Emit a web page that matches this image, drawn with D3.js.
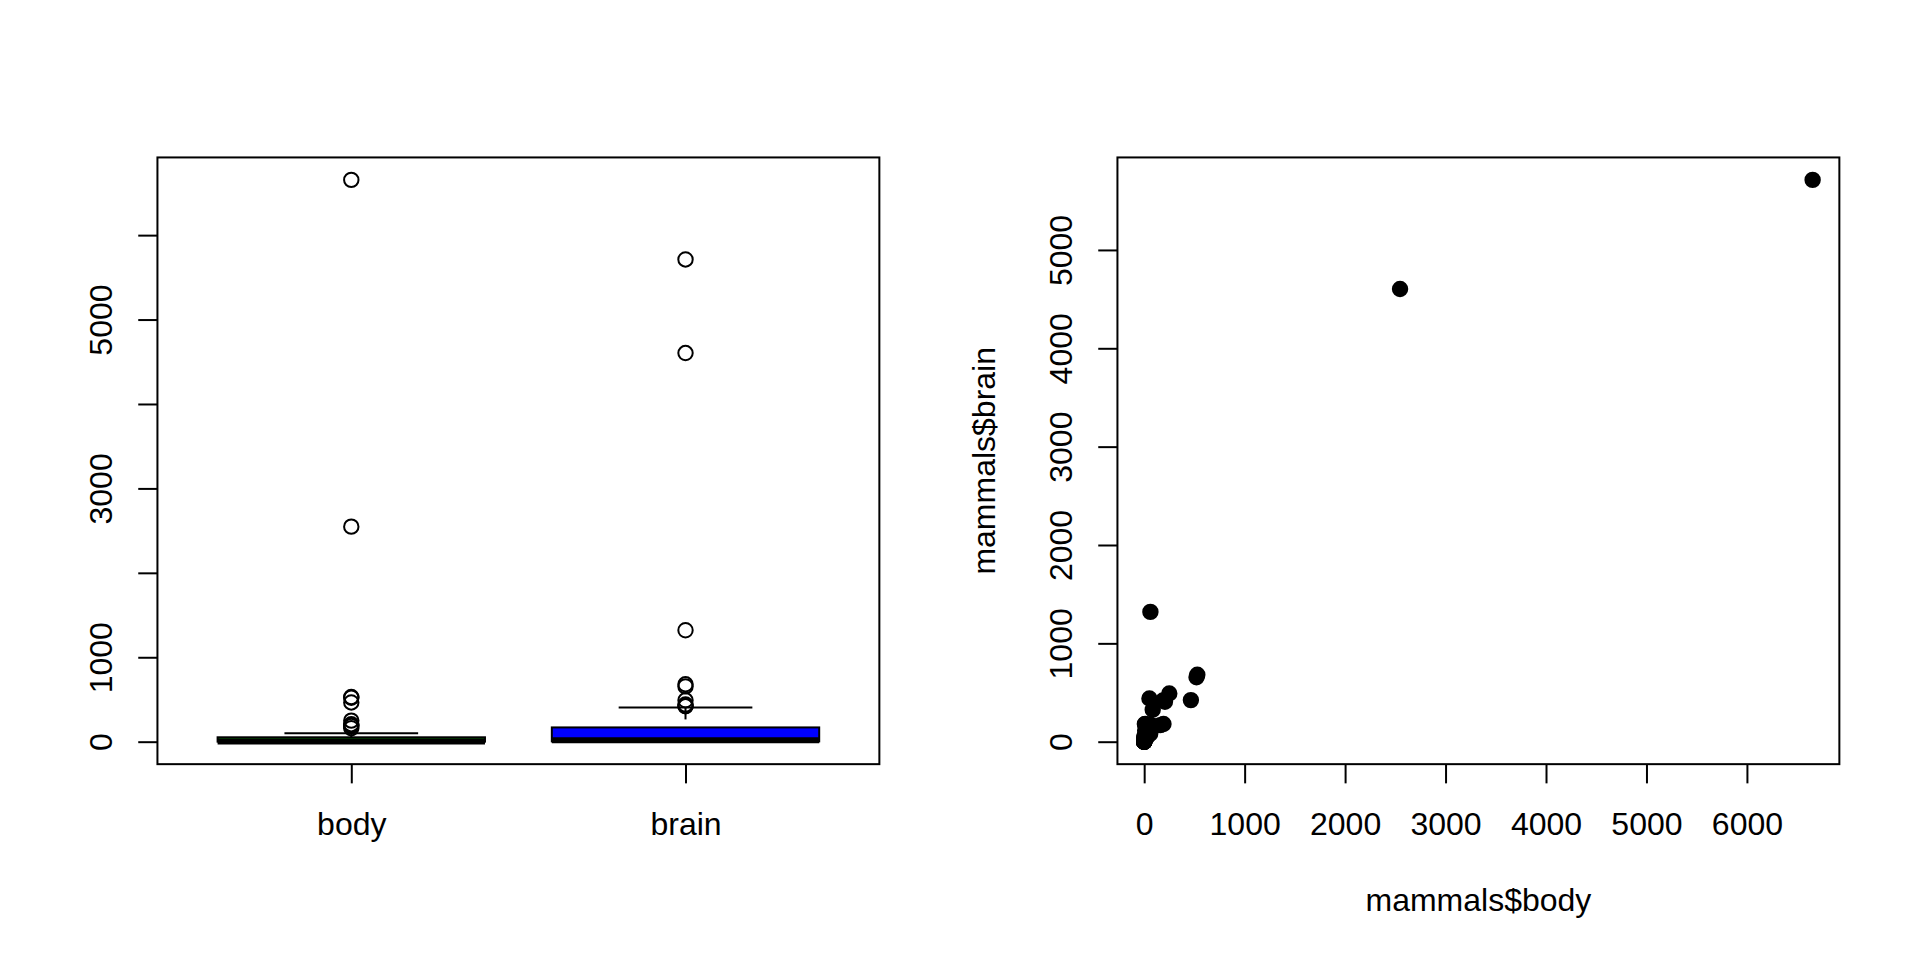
<!DOCTYPE html>
<html>
<head>
<meta charset="utf-8">
<script src="https://cdn.jsdelivr.net/npm/d3@7/dist/d3.min.js"></script>
<style>
  html, body { margin: 0; padding: 0; background: #fff; }
  svg { display: block; }
  text { font-family: "Liberation Sans", Arial, Helvetica, sans-serif; fill: #000; }
</style>
</head>
<body>
<svg id="chart" width="1920" height="960"></svg>
<script>
// ---- Data: MASS::mammals (body kg, brain g) ----
const mammalNames = ["Arctic fox","Owl monkey","Mountain beaver","Cow","Grey wolf","Goat","Roe deer","Guinea pig","Verbet","Chinchilla","Ground squirrel","Arctic ground squirrel","African giant pouched rat","Lesser short-tailed shrew","Star-nosed mole","Nine-banded armadillo","Tree hyrax","N.A. opossum","Asian elephant","Big brown bat","Donkey","Horse","European hedgehog","Patas monkey","Cat","Galago","Genet","Giraffe","Gorilla","Grey seal","Rock hyrax-a","Human","African elephant","Water opossum","Rhesus monkey","Kangaroo","Yellow-bellied marmot","Golden hamster","Mouse","Little brown bat","Slow loris","Okapi","Rabbit","Sheep","Jaguar","Chimpanzee","Baboon","Desert hedgehog","Giant armadillo","Rock hyrax-b","Raccoon","Rat","E. American mole","Mole rat","Musk shrew","Pig","Echidna","Brazilian tapir","Tenrec","Phalanger","Tree shrew","Red fox"];
const bodyValues = [3.385,0.480,1.350,465.000,36.330,27.660,14.830,1.040,4.190,0.425,0.101,0.920,1.000,0.005,0.060,3.500,2.000,1.700,2547.000,0.023,187.100,521.000,0.785,10.000,3.300,0.200,1.410,529.000,207.000,85.000,0.750,62.000,6654.000,3.500,6.800,35.000,4.050,0.120,0.023,0.010,1.400,250.000,2.500,55.500,100.000,52.160,10.550,0.550,60.000,3.600,4.288,0.280,0.075,0.122,0.048,192.000,3.000,160.000,0.900,1.620,0.104,4.235];
const brainValues = [44.5,15.5,8.1,423.0,119.5,115.0,98.2,5.5,58.0,6.4,4.0,5.7,6.6,0.14,1.0,10.8,12.3,6.3,4603.0,0.3,419.0,655.0,3.5,115.0,25.6,5.0,17.5,680.0,406.0,325.0,12.3,1320.0,5712.0,3.9,179.0,56.0,17.0,1.0,0.4,0.25,12.5,490.0,12.1,175.0,157.0,440.0,179.5,2.4,81.0,21.0,39.2,1.9,1.2,3.0,0.33,180.0,25.0,169.0,2.6,11.4,2.5,50.4];

const boxCategories = ["body", "brain"];
const boxFills = ["green", "blue"];
const boxYTicks = [0, 1000, 2000, 3000, 4000, 5000, 6000];
const boxYTickLabels = [0, 1000, 3000, 5000];   // R drops overlapping labels
const scatXTicks = [0, 1000, 2000, 3000, 4000, 5000, 6000];
const scatYTicks = [0, 1000, 2000, 3000, 4000, 5000];
const scatXTitle = "mammals$body";
const scatYTitle = "mammals$brain";

// ---- Layout (R par(mfrow=c(1,2)) at 1920x960) ----
const LINE = 38.4;
const plotTop = 4.1 * LINE, plotBottom = 960 - 5.1 * LINE;
const panels = [
  { x0: 4.1 * LINE, x1: 960 - 2.1 * LINE },
  { x0: 960 + 4.1 * LINE, x1: 1920 - 2.1 * LINE }
];
const FONT = 32, LW = 2, TICK = 0.5 * LINE;
const ptRadius = 0.375 * 0.6 * FONT; // R pch circle radius

const svg = d3.select("#chart");

function extend(ext) { const d = (ext[1] - ext[0]) * 0.04; return [ext[0] - d, ext[1] + d]; }

// R fivenum
function fivenum(arr) {
  const x = arr.slice().sort((a, b) => a - b);
  const n = x.length;
  const n4 = Math.floor((n + 3) / 2) / 2;
  const d = [1, n4, (n + 1) / 2, n + 1 - n4, n];
  return d.map(v => 0.5 * (x[Math.floor(v) - 1] + x[Math.ceil(v) - 1]));
}
function boxStats(arr) {
  const f = fivenum(arr);
  const iqr = f[3] - f[1];
  const lo = f[1] - 1.5 * iqr, hi = f[3] + 1.5 * iqr;
  const inside = arr.filter(v => v >= lo && v <= hi);
  return {
    lowW: d3.min(inside), q1: f[1], med: f[2], q3: f[3], highW: d3.max(inside),
    out: arr.filter(v => v < lo || v > hi)
  };
}

function styleLeftAxis(g, labels) {
  g.select(".domain").remove();
  g.selectAll(".tick line").attr("stroke", "#000").attr("stroke-width", LW);
  g.selectAll(".tick text")
    .attr("transform", "rotate(-90)")
    .attr("x", 0).attr("y", -45.7).attr("dy", 0)
    .attr("text-anchor", "middle")
    .style("font-size", FONT + "px")
    .text(d => labels.includes(d) ? d : "");
}
function styleBottomAxis(g) {
  g.select(".domain").remove();
  g.selectAll(".tick line").attr("stroke", "#000").attr("stroke-width", LW);
  g.selectAll(".tick text")
    .attr("y", 71).attr("dy", 0)
    .attr("text-anchor", "middle")
    .style("font-size", FONT + "px");
}

// ================= Left: boxplot =================
{
  const P = panels[0];
  const allVals = bodyValues.concat(brainValues);
  const y = d3.scaleLinear().domain(extend(d3.extent(allVals))).range([plotBottom, plotTop]);
  const x = d3.scaleLinear().domain(extend([0.5, boxCategories.length + 0.5])).range([P.x0, P.x1]);
  const g = svg.append("g");
  const series = [bodyValues, brainValues];

  series.forEach((vals, i) => {
    const s = boxStats(vals);
    const at = i + 1;
    // box
    g.append("rect")
      .attr("x", x(at - 0.4)).attr("width", x(at + 0.4) - x(at - 0.4))
      .attr("y", y(s.q3)).attr("height", y(s.q1) - y(s.q3))
      .attr("fill", boxFills[i]).attr("stroke", "#000").attr("stroke-width", LW);
    // whiskers (dashed), drawn from whisker end toward hinge
    [[s.lowW, s.q1], [s.highW, s.q3]].forEach(([a, b]) => {
      g.append("line")
        .attr("x1", x(at)).attr("x2", x(at)).attr("y1", y(a)).attr("y2", y(b))
        .attr("stroke", "#000").attr("stroke-width", LW).attr("stroke-dasharray", "12,12");
    });
    // staples
    [s.lowW, s.highW].forEach(v => {
      g.append("line")
        .attr("x1", x(at - 0.2)).attr("x2", x(at + 0.2)).attr("y1", y(v)).attr("y2", y(v))
        .attr("stroke", "#000").attr("stroke-width", LW);
    });
    // median
    g.append("line")
      .attr("x1", x(at - 0.4)).attr("x2", x(at + 0.4)).attr("y1", y(s.med)).attr("y2", y(s.med))
      .attr("stroke", "#000").attr("stroke-width", 3 * LW).attr("stroke-linecap", "butt");
    // outliers
    g.selectAll(null).data(s.out).enter().append("circle")
      .attr("cx", x(at)).attr("cy", d => y(d)).attr("r", ptRadius)
      .attr("fill", "none").attr("stroke", "#000").attr("stroke-width", LW);
  });

  // plot frame
  g.append("rect").attr("x", P.x0).attr("y", plotTop)
    .attr("width", P.x1 - P.x0).attr("height", plotBottom - plotTop)
    .attr("fill", "none").attr("stroke", "#000").attr("stroke-width", LW);

  const ya = svg.append("g").attr("transform", `translate(${P.x0},0)`)
    .call(d3.axisLeft(y).tickValues(boxYTicks).tickSize(TICK).tickFormat(d => d));
  styleLeftAxis(ya, boxYTickLabels);

  const xa = svg.append("g").attr("transform", `translate(0,${plotBottom})`)
    .call(d3.axisBottom(x).tickValues(boxCategories.map((c, i) => i + 1)).tickSize(TICK)
      .tickFormat(d => boxCategories[d - 1]));
  styleBottomAxis(xa);
}

// ================= Right: scatter =================
{
  const P = panels[1];
  const x = d3.scaleLinear().domain(extend(d3.extent(bodyValues))).range([P.x0, P.x1]);
  const y = d3.scaleLinear().domain(extend(d3.extent(brainValues))).range([plotBottom, plotTop]);
  const g = svg.append("g");

  g.selectAll("circle.pt").data(bodyValues.map((b, i) => ({ name: mammalNames[i], body: b, brain: brainValues[i] })))
    .enter().append("circle").attr("class", "pt")
    .attr("cx", d => x(d.body)).attr("cy", d => y(d.brain)).attr("r", ptRadius)
    .attr("fill", "#000").attr("stroke", "#000").attr("stroke-width", LW);

  g.append("rect").attr("x", P.x0).attr("y", plotTop)
    .attr("width", P.x1 - P.x0).attr("height", plotBottom - plotTop)
    .attr("fill", "none").attr("stroke", "#000").attr("stroke-width", LW);

  const ya = svg.append("g").attr("transform", `translate(${P.x0},0)`)
    .call(d3.axisLeft(y).tickValues(scatYTicks).tickSize(TICK).tickFormat(d => d));
  styleLeftAxis(ya, scatYTicks);

  const xa = svg.append("g").attr("transform", `translate(0,${plotBottom})`)
    .call(d3.axisBottom(x).tickValues(scatXTicks).tickSize(TICK).tickFormat(d => d));
  styleBottomAxis(xa);

  // axis titles
  svg.append("text")
    .attr("x", (P.x0 + P.x1) / 2).attr("y", plotBottom + 147)
    .attr("text-anchor", "middle").style("font-size", FONT + "px")
    .text(scatXTitle);
  svg.append("text")
    .attr("transform", `translate(${P.x0 - 122},${(plotTop + plotBottom) / 2}) rotate(-90)`)
    .attr("text-anchor", "middle").style("font-size", FONT + "px")
    .text(scatYTitle);
}
</script>
</body>
</html>
